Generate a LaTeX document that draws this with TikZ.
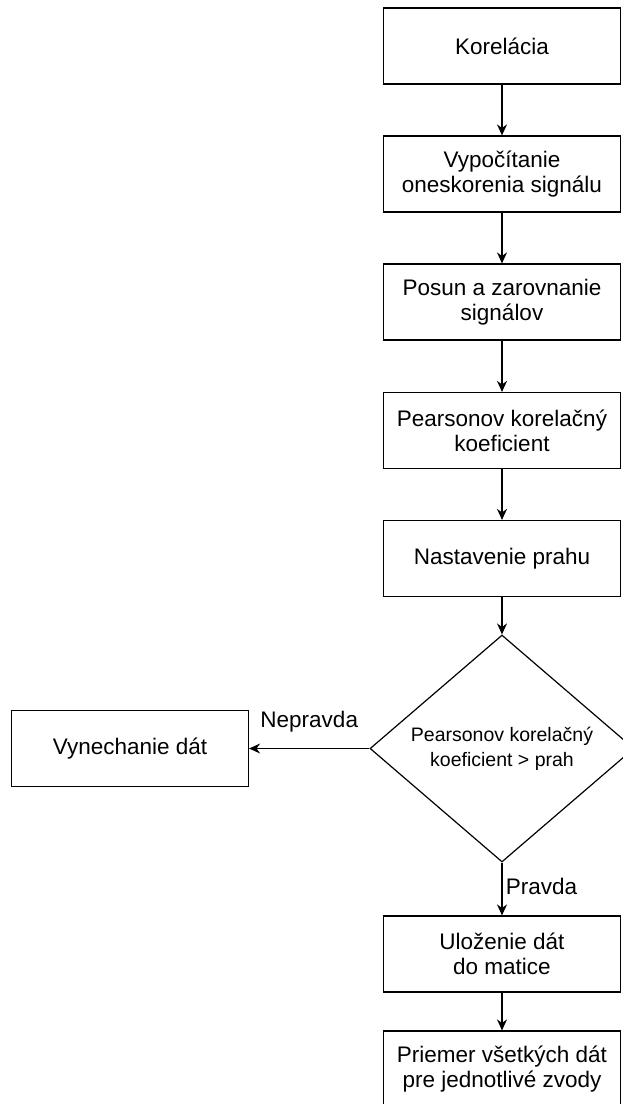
\documentclass[tikz,border=0pt]{standalone}
\usepackage{fontspec}
\setmainfont{Liberation Sans}
\usetikzlibrary{shapes.geometric, arrows.meta}
\begin{document}
\begin{tikzpicture}[x=1pt, y=-1pt,
    block/.style={rectangle, draw, line width=1.2pt, minimum width=237pt,
      minimum height=76pt, align=center, inner sep=2pt,
      font=\fontsize{22.5}{25}\selectfont},
    decision/.style={diamond, draw, line width=1.2pt, minimum width=264pt,
      minimum height=227pt, inner sep=0pt, align=center,
      font=\fontsize{19.5}{25}\selectfont}]
    \useasboundingbox (0,0) rectangle (623,1104);
    \begin{scope}[every node/.style={block}]
      \node (kor) at (502, 46) {Korelácia}; \node (vyp) at (502, 174)
      {Vypočítanie\\oneskorenia signálu}; \node (pos) at (502, 302)
      {Posun a zarovnanie\\signálov}; \node (pea) at (502, 430.5)
      {Pearsonov korelačný\\koeficient}; \node (nas) at (502, 558.5)
      {Nastavenie prahu}; \node (vyn) at (130, 748.5) {Vynechanie dát};
      \node (ulo) at (502, 954) {Uloženie dát\\do matice}; \node (pri)
      at (502, 1069) {Priemer všetkých dát\\pre jednotlivé zvody};
    \end{scope}
    \node [decision] (dec) at (502, 748.5) {Pearsonov korelačný\\koeficient > prah};
    \begin{scope}[->, >={Stealth[length=11pt, width=10pt]}, line width=1.2pt,
      every node/.style={font=\fontsize{22.5}{25}\selectfont}]
      \draw (kor) to (vyp); \draw (vyp) to (pos); \draw (pos) to
      (pea); \draw (pea) to (nas); \draw (nas) to (dec); \draw (dec.west)
      to node [above=12pt] {Nepravda} (vyn); \draw (dec) to node
      [right=0pt, pos=0.45] {Pravda} (ulo); \draw (ulo) to (pri);
    \end{scope}
  \end{tikzpicture}
\end{document}
